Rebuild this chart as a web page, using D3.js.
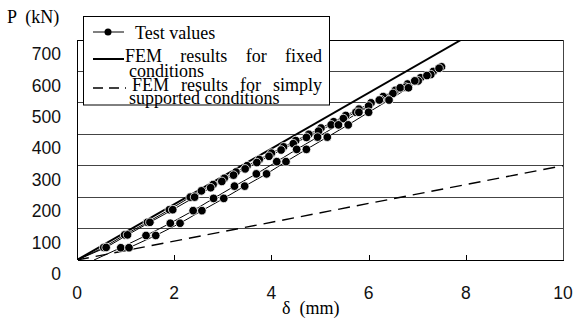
<!DOCTYPE html>
<html><head><meta charset="utf-8">
<script src="https://cdn.jsdelivr.net/npm/d3@7"></script>
<style>body{margin:0;background:#fff}svg{display:block}</style>
</head><body>
<script>
// ---- data ----
const xTicks = [0, 2, 4, 6, 8, 10];
const yTicks = [0, 100, 200, 300, 400, 500, 600, 700];
// Test values: loading branches (P in kN, delta in mm)
const upperA_P = [0,40,80,120,160,200,220,240,260,280,300,320,340,360,380,400,420,440,460,480,500,520,540,560,580,600,615];
const upperA_d = [0,0.55,0.98,1.45,1.9,2.33,2.56,2.8,3.03,3.27,3.5,3.75,4.0,4.25,4.5,4.77,5.02,5.28,5.53,5.8,6.05,6.3,6.55,6.8,7.07,7.33,7.5];
const upperB_P = [0,40,80,120,160,200,230,250,270,290,310,330,350,370,390,410,430,450,470,490,510,530,550,570,590,610];
const upperB_d = [0,0.6,1.04,1.5,1.97,2.42,2.75,2.98,3.22,3.46,3.7,3.95,4.2,4.45,4.72,4.97,5.23,5.48,5.74,6.0,6.25,6.5,6.76,7.02,7.28,7.45];
const lowerA_P = [0,39,78,117,157,196,235,274,313,352,391,430,470,509,548,570];
const lowerA_d = [0.35,0.9,1.42,1.92,2.39,2.81,3.24,3.69,4.11,4.52,4.95,5.38,5.8,6.22,6.65,6.95];
const lowerB_P = [39,78,117,157,196,235,274,313,352,391,430,470,509,548,587];
const lowerB_d = [1.07,1.62,2.12,2.57,3.02,3.45,3.9,4.3,4.72,5.15,5.58,6.0,6.42,6.82,7.2];
// FEM results
const fixed_d = [0, 7.9];
const fixed_P = [0, 700];
const simple_d = [0, 10];
const simple_P = [0, 300];

const W = 573, H = 326;
const svg = d3.select("body").append("svg").attr("width", W).attr("height", H);
const x = d3.scaleLinear().domain([0, 10]).range([77, 563]);
const y = d3.scaleLinear().domain([0, 700]).range([260, 40]);

const zip = (d, p) => d.map((v, i) => [v, p[i]]);
const line = d3.line().x(v => x(v[0])).y(v => y(v[1]));

svg.append("clipPath").attr("id", "clip").append("rect")
  .attr("x", x(0)).attr("y", y(700)).attr("width", x(10) - x(0)).attr("height", y(0) - y(700));

// gridlines
svg.append("g").selectAll("line").data(yTicks.filter(t => t > 0 && t < 700)).join("line")
  .attr("x1", x(0)).attr("x2", x(10)).attr("y1", d => y(d)).attr("y2", d => y(d))
  .attr("stroke", "#444").attr("stroke-width", 1).attr("shape-rendering", "crispEdges");
svg.append("line").attr("x1", x(0)).attr("x2", x(10)).attr("y1", y(700)).attr("y2", y(700))
  .attr("stroke", "#000").attr("shape-rendering", "crispEdges");
svg.append("line").attr("x1", x(10)).attr("x2", x(10)).attr("y1", y(700)).attr("y2", y(0))
  .attr("stroke", "#444").attr("shape-rendering", "crispEdges");

// axes
const xAxis = d3.axisBottom(x).tickValues(xTicks.filter(t => t > 0 && t < 10)).tickSizeInner(-5).tickSizeOuter(0).tickFormat("");
const gx = svg.append("g").attr("transform", `translate(0,${y(0)})`).call(xAxis);
gx.selectAll("path,line").attr("stroke", "#000").attr("shape-rendering", "crispEdges");
svg.append("line").attr("x1", x(0)).attr("x2", x(0)).attr("y1", y(700)).attr("y2", y(0))
  .attr("stroke", "#000").attr("shape-rendering", "crispEdges");

// tick labels
const sans = "Liberation Sans, Arial, sans-serif";
svg.append("g").selectAll("text").data(yTicks).join("text")
  .attr("x", 61).attr("y", d => y(d) + 14).attr("dy", "0.35em")
  .attr("text-anchor", "end").attr("font-family", sans)
  .attr("font-size", 17.5).attr("fill", "#111").text(d => d);
svg.append("g").selectAll("text").data(xTicks).join("text")
  .attr("x", d => x(d)).attr("y", 299)
  .attr("text-anchor", "middle").attr("font-family", sans)
  .attr("font-size", 17.5).attr("fill", "#111").text(d => d);

// axis titles
const serif = "Liberation Serif, Times New Roman, serif";
svg.append("text").attr("x", 7).attr("y", 23).attr("font-family", serif).attr("font-size", 18)
  .attr("xml:space", "preserve").text("P  (kN)");
svg.append("text").attr("x", 282).attr("y", 314).attr("font-family", serif).attr("font-size", 18)
  .attr("xml:space", "preserve").text("δ  (mm)");

const plot = svg.append("g").attr("clip-path", "url(#clip)");
plot.append("path").datum(zip(simple_d, simple_P)).attr("d", line)
  .attr("fill", "none").attr("stroke", "#000").attr("stroke-width", 1.4).attr("stroke-dasharray", "12,7");
plot.append("path").datum(zip(fixed_d, fixed_P)).attr("d", line)
  .attr("fill", "none").attr("stroke", "#000").attr("stroke-width", 2);

// test series
const series = [zip(upperA_d, upperA_P), zip(upperB_d, upperB_P), zip(lowerA_d, lowerA_P), zip(lowerB_d, lowerB_P)];
series.forEach(s => {
  plot.append("path").datum(s).attr("d", line).attr("fill", "none").attr("stroke", "#000").attr("stroke-width", 1);
});
series.forEach(s => {
  svg.append("g").selectAll("circle").data(s.filter(v => v[1] > 0)).join("circle")
    .attr("cx", v => x(v[0])).attr("cy", v => y(v[1])).attr("r", 4.3)
    .attr("fill", "#000").attr("stroke", "#fff").attr("stroke-width", 0.8);
});

// legend
const lg = svg.append("g");
lg.append("rect").attr("x", 83.5).attr("y", 16.5).attr("width", 246).attr("height", 88.5)
  .attr("fill", "#fff").attr("stroke", "#000").attr("stroke-width", 1);
lg.append("line").attr("x1", 93).attr("x2", 124).attr("y1", 32).attr("y2", 32).attr("stroke", "#000").attr("stroke-width", 1);
lg.append("circle").attr("cx", 108).attr("cy", 32).attr("r", 3.5).attr("fill", "#000");
lg.append("line").attr("x1", 93).attr("x2", 124).attr("y1", 59).attr("y2", 59).attr("stroke", "#000").attr("stroke-width", 2);
lg.append("line").attr("x1", 93).attr("x2", 126).attr("y1", 88).attr("y2", 88).attr("stroke", "#000").attr("stroke-width", 1.4).attr("stroke-dasharray", "10,6");
function justify(txt, x0, yb, target) {
  const t = lg.append("text").attr("x", x0).attr("y", yb).attr("font-family", serif).attr("font-size", 18).text(txt);
  if (target) {
    const len = t.node().getComputedTextLength();
    const gaps = txt.split(" ").length - 1;
    t.attr("word-spacing", Math.max(0, (target - len) / gaps));
  }
}
justify("Test values", 135, 39);
justify("FEM results for fixed", 125, 62, 197);
justify("conditions", 129, 77);
justify("FEM results for simply", 132, 91, 190);
justify("supported conditions", 129, 104);
</script>
</body></html>
